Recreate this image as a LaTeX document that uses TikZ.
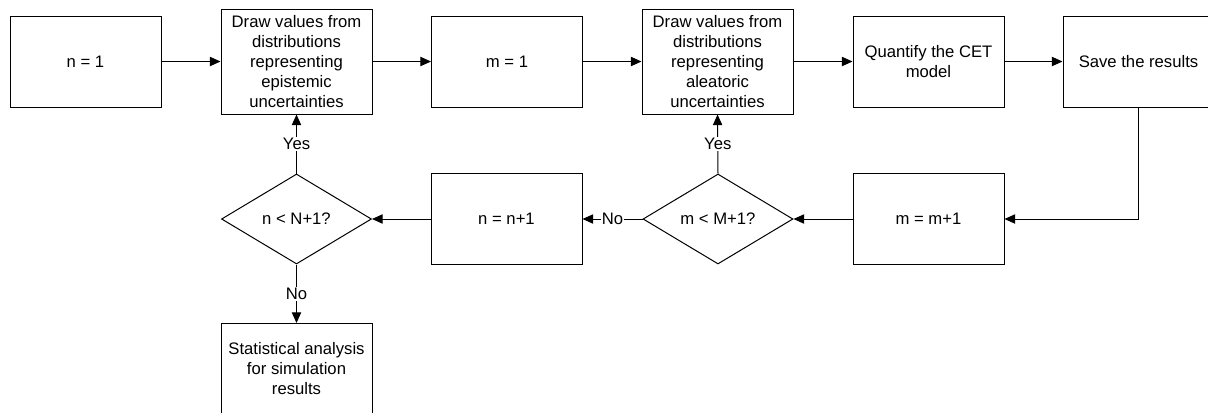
\documentclass[tikz,border=0pt]{standalone}
\usepackage{fontspec}
\setmainfont{Liberation Sans}
\usetikzlibrary{shapes.geometric,arrows.meta}
\begin{document}
\begin{tikzpicture}[x=0.75pt,y=-0.75pt,
  every node/.style={font=\fontsize{12.5}{15}\selectfont},
  box/.style={draw, line width=0.75pt, rectangle, inner sep=0pt, align=center,
    minimum width=113.25pt, minimum height=68.25pt},
  tallbox/.style={box, minimum height=78.75pt},
  decision/.style={draw, line width=0.75pt, diamond, inner sep=0pt, align=center,
    minimum width=112.5pt, minimum height=67.5pt},
  flow/.style={line width=0.75pt, -{Triangle[length=8pt,width=7pt]}},
  lbl/.style={fill=white, inner sep=1pt}
]
\useasboundingbox (0,0) rectangle (1208,412);
\node[box] (n1) at (85.5,61.5) {n = 1};
\node[tallbox] (d1) at (296.5,61.5) {Draw values from\\distributions\\representing\\epistemic\\uncertainties};
\node[box] (m1) at (507,61.5) {m = 1};
\node[tallbox] (d2) at (717.5,61.5) {Draw values from\\distributions\\representing\\aleatoric\\uncertainties};
\node[box] (q) at (928.5,61.5) {Quantify the CET\\model};
\node[box] (s) at (1138.5,61.5) {Save the results};
\node[box] (mm) at (928.5,219) {m = m+1};
\node[decision] (c2) at (718,219) {m < M+1?};
\node[box] (nn) at (506.5,219) {n = n+1};
\node[decision] (c1) at (296.5,219) {n < N+1?};
\node[box] (st) at (296.5,369) {Statistical analysis\\for simulation\\results};

\draw[flow] (n1) -- (d1);
\draw[flow] (d1) -- (m1);
\draw[flow] (m1) -- (d2);
\draw[flow] (d2) -- (q);
\draw[flow] (q) -- (s);
\draw[flow] (s.south) |- (mm.east);
\draw[flow] (mm.west) -- (c2.east);
\draw[flow] (c2.west) -- node[lbl] (no2) {No} (nn.east);
\draw[flow] (nn.west) -- (c1.east);
\draw[flow] (c1.north) -- node[lbl] (yes1) {Yes} (d1.south);
\draw[flow] (c2.north) -- node[lbl] (yes2) {Yes} (d2.south);
\draw[flow] (c1.south) -- node[lbl] (no1) {No} (st.north);
\end{tikzpicture}
\end{document}
